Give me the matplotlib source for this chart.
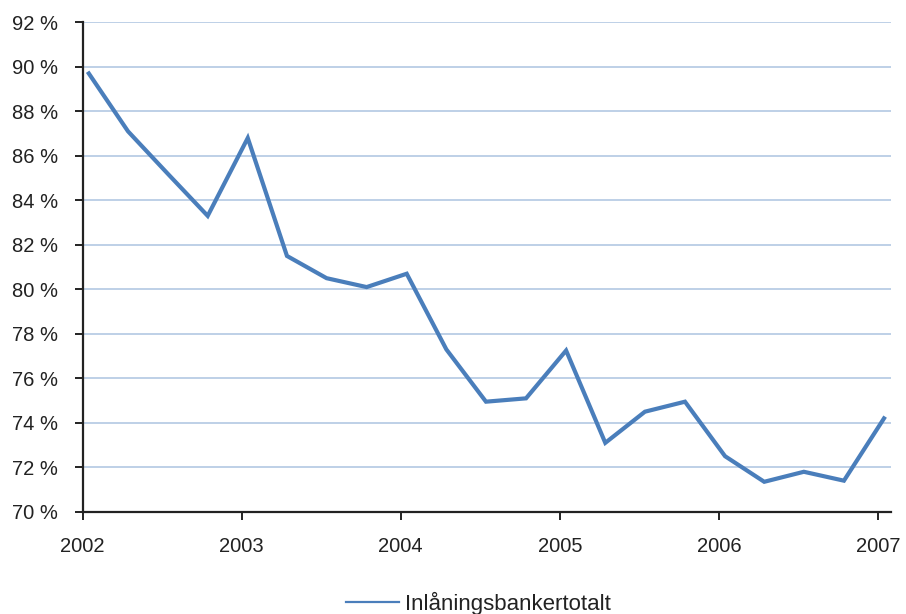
import datetime as dt
import matplotlib
matplotlib.use("Agg")
import matplotlib.pyplot as plt
import matplotlib.dates as mdates
from matplotlib.lines import Line2D
from matplotlib.ticker import FuncFormatter

# quarterly observations, 2002 Q1 - 2007 Q1
dates = [dt.date(y, m, 15) for y in range(2002, 2007) for m in (1, 4, 7, 10)] + [dt.date(2007, 1, 15)]
andel = [89.7, 87.1, 85.2, 83.3, 86.8, 81.5, 80.5, 80.1, 80.7, 77.3, 74.95,
         75.1, 77.25, 73.1, 74.5, 74.95, 72.5, 71.35, 71.8, 71.4, 74.2]
serie_namn = "Inlåningsbankertotalt"
year_ticks = list(range(2002, 2008))

plt.rcParams["font.family"] = ["Liberation Sans", "DejaVu Sans"]

fig = plt.figure(figsize=(9.06, 6.14), dpi=100)
ax = fig.add_axes([0.0913, 0.1664, 0.8921, 0.7973])

ax.plot(dates, andel, color="#4a7ebb", lw=3.0, solid_joinstyle="miter")

ax.set_ylim(70, 92)
ax.set_yticks(range(70, 93, 2))
ax.yaxis.set_major_formatter(FuncFormatter(lambda v, p: f"{v:.0f} %"))
ax.set_xlim(dt.date(2002, 1, 1), dt.date(2007, 1, 31))
ax.set_xticks([dt.date(y, 1, 1) for y in year_ticks])
ax.xaxis.set_major_formatter(mdates.DateFormatter("%Y"))

ax.grid(axis="y", color="#b9cde5", lw=1.3)
ax.set_axisbelow(True)
for s in ("top", "right"):
    ax.spines[s].set_visible(False)
for s in ("left", "bottom"):
    ax.spines[s].set_color("#222222")
    ax.spines[s].set_linewidth(1.6)

ax.tick_params(axis="y", length=6, width=1.4, pad=12, labelsize=14.5, colors="#222222")
ax.tick_params(axis="x", length=6, width=1.4, pad=12, labelsize=14.5, colors="#222222")

handle = Line2D([], [], color="#4a7ebb", lw=1.6)
fig.legend([handle], [serie_namn], loc="center", bbox_to_anchor=(0.528, 0.018),
           frameon=False, fontsize=16, handlelength=2.35, handletextpad=0.27,
           labelcolor="#222222")

fig.savefig("out.png", dpi=100)
